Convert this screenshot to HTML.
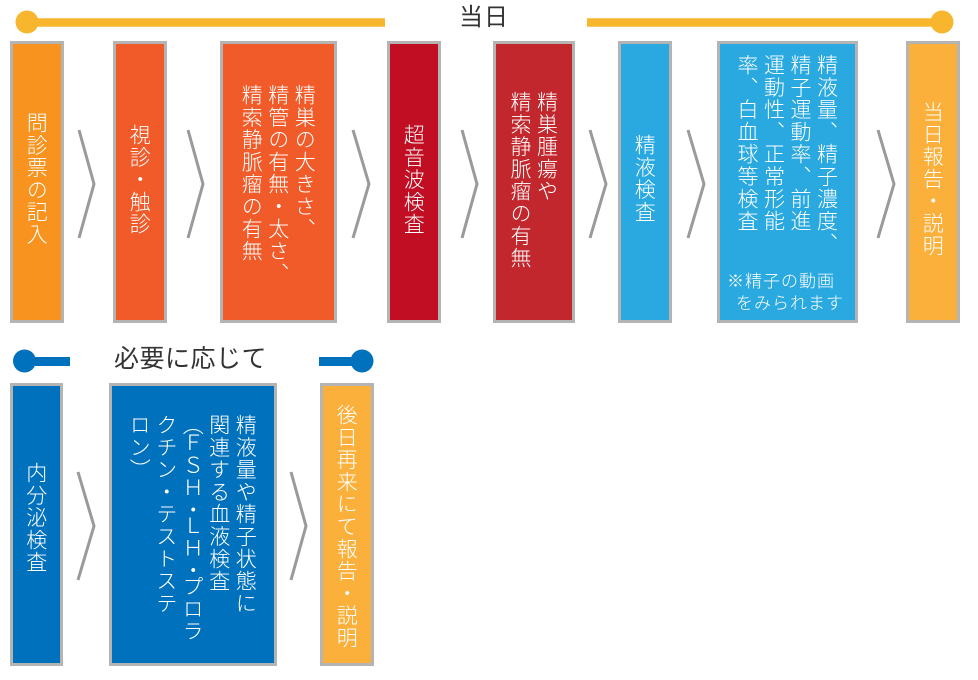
<!DOCTYPE html>
<html>
<head>
<meta charset="utf-8">
<style>
  html,body{margin:0;padding:0;background:#fff;}
  body{width:978px;height:680px;position:relative;overflow:hidden;
       font-family:"Liberation Sans","Noto Sans CJK JP",sans-serif;}
  .box{position:absolute;box-sizing:border-box;border:3px solid #b4b4b4;}
  .t{position:absolute;display:flex;justify-content:center;}
  .v{writing-mode:vertical-rl;white-space:nowrap;color:#fff;
     font-family:"Noto Sans CJK JP","Liberation Sans",sans-serif;
     font-size:21px;line-height:26.5px;letter-spacing:1.3px;font-weight:300;}
  .lbl{position:absolute;color:#333;white-space:nowrap;
       font-family:"Liberation Sans","Noto Sans CJK JP",sans-serif;}
  .note{position:absolute;color:#fff;white-space:nowrap;font-size:17px;line-height:20px;letter-spacing:1px;font-weight:300;
       font-family:"Noto Sans CJK JP","Liberation Sans",sans-serif;}
  svg{position:absolute;left:0;top:0;}
</style>
</head>
<body>

<svg width="978" height="680" viewBox="0 0 978 680">
  <line x1="27" y1="22.5" x2="385" y2="22.5" stroke="#F8B62F" stroke-width="8.5"/>
  <circle cx="27" cy="22" r="11.5" fill="#F8B62F"/>
  <line x1="587" y1="22.5" x2="942" y2="22.5" stroke="#F8B62F" stroke-width="8.5"/>
  <circle cx="942" cy="22" r="11.5" fill="#F8B62F"/>
  <line x1="24" y1="361.5" x2="70" y2="361.5" stroke="#0071BC" stroke-width="9"/>
  <circle cx="24.5" cy="361" r="11.5" fill="#0071BC"/>
  <line x1="319" y1="361.5" x2="362" y2="361.5" stroke="#0071BC" stroke-width="9"/>
  <circle cx="362" cy="361" r="11.5" fill="#0071BC"/>
  <g fill="none" stroke="#9a9a9a" stroke-width="3" stroke-linejoin="miter">
    <polyline points="79,130 94,184 79,238"/>
    <polyline points="188,130 203,184 188,238"/>
    <polyline points="353,130 369,184 353,238"/>
    <polyline points="462,130 477,184 462,238"/>
    <polyline points="590,130 606,184 590,238"/>
    <polyline points="688,130 704,184 688,238"/>
    <polyline points="878,130 894,184 878,238"/>
    <polyline points="78,472 94,526 78,580"/>
    <polyline points="291,472 306,526 291,580"/>
  </g>
</svg>

<div class="lbl" style="left:459px;top:6px;font-size:24px;line-height:24px;letter-spacing:1px;">当日</div>
<div class="lbl" style="left:114px;top:347px;font-size:25px;line-height:25px;letter-spacing:0.5px;">必要に応じて</div>

<div class="box" style="left:10px;top:41px;width:54px;height:282px;background:#F7931E;"></div>
<div class="box" style="left:113px;top:41px;width:54px;height:282px;background:#F15A29;"></div>
<div class="box" style="left:220px;top:41px;width:117px;height:282px;background:#F15A29;"></div>
<div class="box" style="left:387px;top:41px;width:54px;height:282px;background:#C10E23;"></div>
<div class="box" style="left:493px;top:41px;width:82px;height:282px;background:#C1272D;"></div>
<div class="box" style="left:618px;top:41px;width:54px;height:282px;background:#29A9E0;"></div>
<div class="box" style="left:717px;top:41px;width:141px;height:282px;background:#29A9E0;"></div>
<div class="box" style="left:906px;top:41px;width:54px;height:282px;background:#FBB03B;"></div>

<div class="box" style="left:10px;top:383px;width:53px;height:283px;background:#0071BC;"></div>
<div class="box" style="left:109px;top:383px;width:168px;height:283px;background:#0071BC;"></div>
<div class="box" style="left:320px;top:383px;width:54px;height:283px;background:#FBB03B;"></div>

<div class="t" style="left:10px;width:54px;top:112px;"><div class="v">問診票の記入</div></div>
<div class="t" style="left:113px;width:54px;top:124px;"><div class="v">視診・触診</div></div>
<div class="t" style="left:220px;width:117px;top:84px;"><div class="v">精巣の大きさ、<br>精管の有無・太さ、<br>精索静脈瘤の有無</div></div>
<div class="t" style="left:387px;width:54px;top:124px;"><div class="v">超音波検査</div></div>
<div class="t" style="left:493px;width:82px;top:91px;"><div class="v">精巣腫瘍や<br>精索静脈瘤の有無</div></div>
<div class="t" style="left:618px;width:54px;top:134px;"><div class="v">精液検査</div></div>
<div class="t" style="left:717px;width:141px;top:54px;"><div class="v">精液量、精子濃度、<br>精子運動率、前進<br>運動性、正常形能<br>率、白血球等検査</div></div>
<div class="note" style="left:727px;top:270px;">※精子の動画</div>
<div class="note" style="left:736px;top:292px;">をみられます</div>
<div class="t" style="left:906px;width:54px;top:101px;"><div class="v">当日報告・説明</div></div>

<div class="t" style="left:10px;width:53px;top:462px;"><div class="v">内分泌検査</div></div>
<div class="t" style="left:109px;width:168px;top:414px;"><div class="v">精液量や精子状態に<br>関連する血液検査<br><span style="letter-spacing:-3px;">（</span>ＦＳＨ<span style="letter-spacing:-5px;">・</span>ＬＨ<span style="letter-spacing:-5px;">・</span>プロラ<br>クチン・テストステ<br>ロン）</div></div>
<div class="t" style="left:320px;width:54px;top:404px;"><div class="v">後日再来にて報告・説明</div></div>

</body>
</html>
